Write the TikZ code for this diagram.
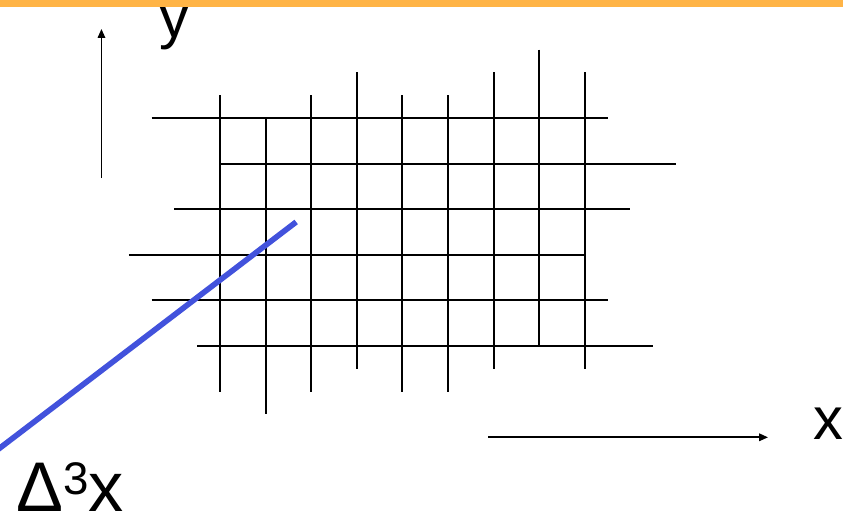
\documentclass[tikz,border=0pt]{standalone}
\usepackage{fontspec}
\setmainfont{Liberation Sans}
\usetikzlibrary{arrows.meta}
\definecolor{barorange}{RGB}{255,180,70}
\definecolor{cutblue}{RGB}{66,82,220}

\begin{document}
\begin{tikzpicture}[x=0.912cm, y=-0.912cm,
    gridline/.style={line width=1.1pt},
    axis/.style={line width=0.95pt, -{Triangle[length=5pt,width=4.2pt]}},
    axislabel/.style={inner sep=0pt, anchor=base west,
      font=\fontsize{34}{34}\selectfont}]
  \useasboundingbox (-4.825,-2.588) rectangle (13.662,8.75);
  \clip (-4.825,-2.588) rectangle (13.662,8.75);
  % vertical lines: column/top/bottom
  \foreach \i/\t/\b in {0/-0.5/6, 1/0/6.5, 2/-0.5/6, 3/-1/5.5, 4/-0.5/6,
                        5/-0.5/6, 6/-1/5.5, 7/-1.5/5, 8/-1/5.5}
    \draw[gridline] (\i,\t) -- (\i,\b);
  % horizontal lines: row/left/right
  \foreach \j/\l/\r in {0/-1.5/8.5, 1/0/10, 2/-1/9, 3/-2/8,
                        4/-1.5/8.5, 5/-0.5/9.5}
    \draw[gridline] (\l,\j) -- (\r,\j);
  % cutting line
  \draw[cutblue, line width=3.2pt] (1.67,2.28) -- (-5.5,7.75);
  % axes
  \coordinate (yfoot) at (-2.6,1.316);
  \coordinate (yhead) at (-2.6,-1.952);
  \coordinate (xfoot) at (5.877,7.002);
  \coordinate (xhead) at (12.018,7.002);
  \draw[axis] (yfoot) -- (yhead);
  \draw[axis] (xfoot) -- (xhead);
  \node[axislabel] (ylabel) at (-1.33,-1.77) {y};
  \node[axislabel] (xlabel) at (13.0,7.04) {x};
  \node[inner sep=0pt, anchor=base west, font=\fontsize{40}{40}\selectfont]
    (dlabel) at (-4.47,8.63) {Δ\raisebox{9.5pt}{\fontsize{26}{26}\selectfont 3}x};
  % top bar
  \fill[barorange] (-4.825,-2.588) rectangle (13.662,-2.434);
\end{tikzpicture}
\end{document}
